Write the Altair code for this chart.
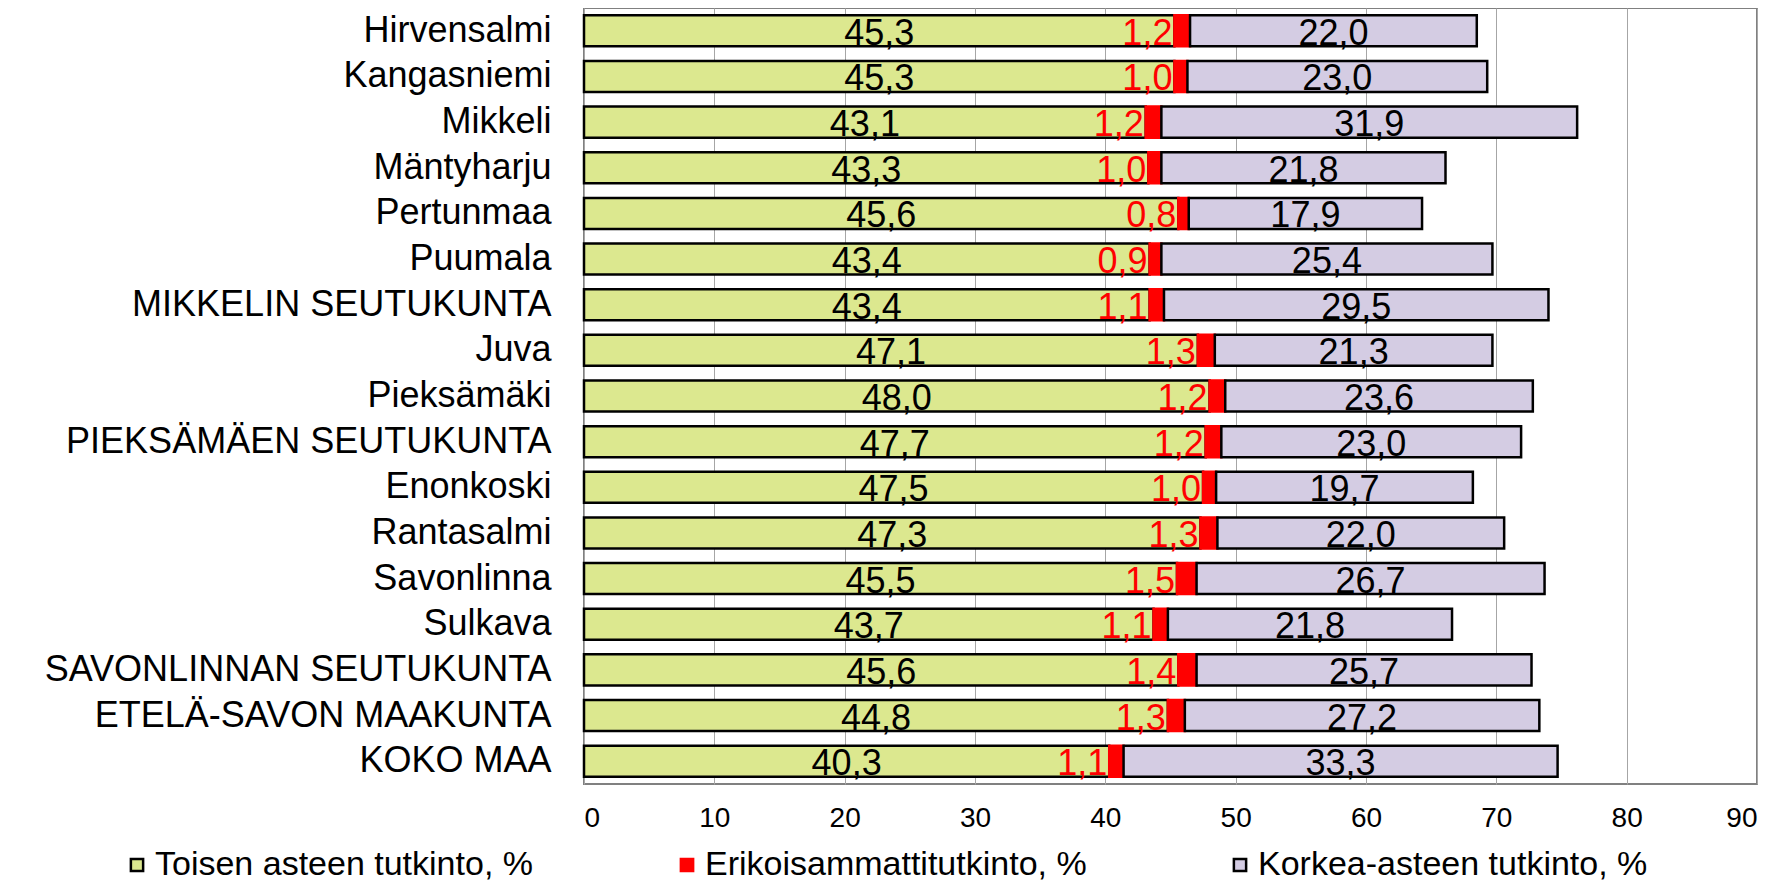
import altair as alt
import pandas as pd

categories = [
    "Hirvensalmi", "Kangasniemi", "Mikkeli", "Mäntyharju", "Pertunmaa", "Puumala",
    "MIKKELIN SEUTUKUNTA", "Juva", "Pieksämäki", "PIEKSÄMÄEN SEUTUKUNTA", "Enonkoski",
    "Rantasalmi", "Savonlinna", "Sulkava", "SAVONLINNAN SEUTUKUNTA",
    "ETELÄ-SAVON MAAKUNTA", "KOKO MAA",
]
toinen = [45.3, 45.3, 43.1, 43.3, 45.6, 43.4, 43.4, 47.1, 48.0, 47.7, 47.5, 47.3, 45.5, 43.7, 45.6, 44.8, 40.3]
erikois = [1.2, 1.0, 1.2, 1.0, 0.8, 0.9, 1.1, 1.3, 1.2, 1.2, 1.0, 1.3, 1.5, 1.1, 1.4, 1.3, 1.1]
korkea = [22.0, 23.0, 31.9, 21.8, 17.9, 25.4, 29.5, 21.3, 23.6, 23.0, 19.7, 22.0, 26.7, 21.8, 25.7, 27.2, 33.3]
series_names = ["Toisen asteen tutkinto, %", "Erikoisammattitutkinto, %", "Korkea-asteen tutkinto, %"]
series_colors = ["#dce88f", "#ff0000", "#d4cce3"]
series_strokes = ["#000000", "#ff0000", "#000000"]
x_ticks = [0, 10, 20, 30, 40, 50, 60, 70, 80, 90]

rows = []
for i, c in enumerate(categories):
    start = 0.0
    for k, (s, v) in enumerate(zip(series_names, (toinen[i], erikois[i], korkea[i]))):
        rows.append(dict(cat=c, series=s, order=k, value=v, start=start, end=start + v,
                         mid=start + v / 2, label=f"{v:.1f}".replace(".", ",")))
        start += v
df = pd.DataFrame(rows)

FONT = "Liberation Sans"

y_enc = alt.Y("cat:N", sort=categories, title=None,
              scale=alt.Scale(paddingInner=0.32, paddingOuter=0.16),
              axis=alt.Axis(labelFontSize=36, labelFont=FONT, labelColor="black",
                            labelPadding=33, ticks=False, domain=False, labelLimit=700))
x_scale = alt.Scale(domain=[0, 90], nice=False, zero=True)

base = alt.Chart(df)

bars = base.mark_bar(strokeWidth=2.5).encode(
    x=alt.X("start:Q", scale=x_scale, title=None,
            axis=alt.Axis(values=x_ticks, grid=True, gridColor="#a6a6a6", gridWidth=1,
                          ticks=False, domain=False, labelFontSize=28, labelFont=FONT,
                          labelColor="black", labelPadding=20)),
    x2="end:Q",
    y=y_enc,
    color=alt.Color("series:N", scale=alt.Scale(domain=series_names, range=series_colors),
                    legend=alt.Legend(title=None, orient="none", legendX=-464, legendY=840,
                                      direction="horizontal", columns=3, columnPadding=136,
                                      labelFontSize=34, labelFont=FONT, labelColor="black",
                                      symbolType="square", symbolSize=150, symbolOffset=0,
                                      labelOffset=1, symbolStrokeWidth=2.5,
                                      labelLimit=600)),
    stroke=alt.Stroke("series:N", scale=alt.Scale(domain=series_names, range=series_strokes),
                      legend=None),
    order=alt.Order("order:Q"),
)

txt_green = base.transform_filter(alt.datum.order == 0).mark_text(
    fontSize=36, font=FONT, color="black", baseline="middle", dy=3
).encode(x=alt.X("mid:Q", scale=x_scale), y=alt.Y("cat:N", sort=categories), text="label:N")

txt_red = base.transform_filter(alt.datum.order == 1).mark_text(
    fontSize=36, font=FONT, color="#ff0000", baseline="middle", align="right", dx=-2, dy=3
).encode(x=alt.X("start:Q", scale=x_scale), y=alt.Y("cat:N", sort=categories), text="label:N")

txt_lav = base.transform_filter(alt.datum.order == 2).mark_text(
    fontSize=36, font=FONT, color="black", baseline="middle", dy=3
).encode(x=alt.X("mid:Q", scale=x_scale), y=alt.Y("cat:N", sort=categories), text="label:N")

chart = alt.layer(bars, txt_green, txt_red, txt_lav).properties(
    width=1173, height=776,
    autosize=alt.AutoSizeParams(type="none"),
    padding={"left": 576, "top": 0, "right": 10, "bottom": 100},
).configure_view(stroke="#808080", strokeWidth=2)

chart.save("out.html", embed_options={"renderer": "svg", "actions": False})
